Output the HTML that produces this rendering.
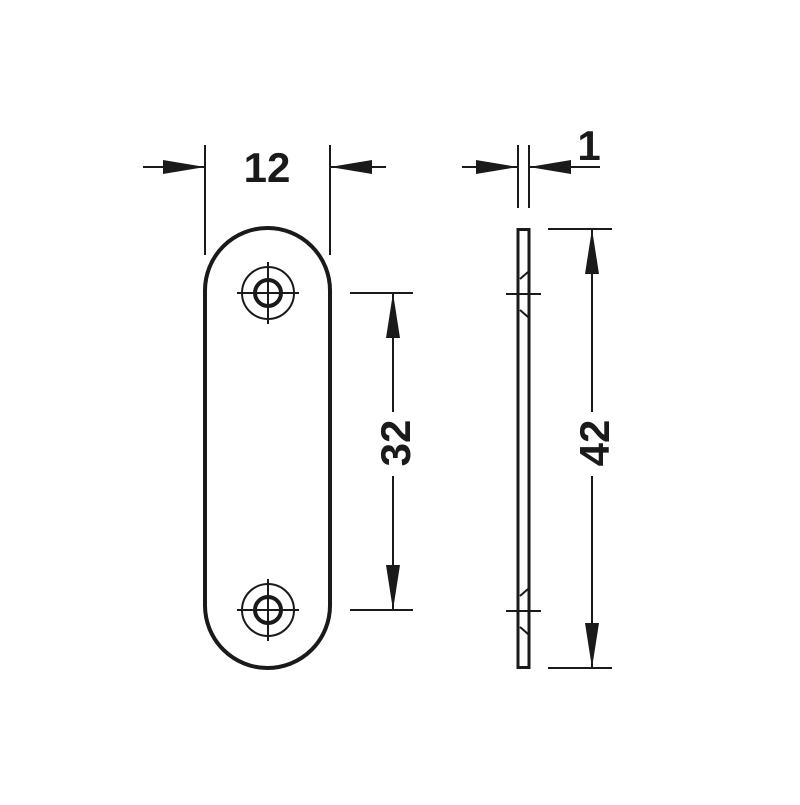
<!DOCTYPE html>
<html><head><style>body{margin:0;background:#fff}</style></head><body>
<svg width="800" height="800" viewBox="0 0 800 800" xmlns="http://www.w3.org/2000/svg">
<g stroke="#1a1a1a" fill="none">
<rect x="205" y="228" width="125" height="440" rx="62.5" stroke-width="4"/>
<g id="h1">
<circle cx="268" cy="293" r="26" stroke-width="2"/>
<circle cx="268" cy="293" r="13" stroke-width="4"/>
<line x1="237" y1="293" x2="299" y2="293" stroke-width="2"/>
<line x1="268" y1="262" x2="268" y2="324" stroke-width="2"/>
<line x1="265" y1="293" x2="271" y2="293" stroke-width="1.5"/>
</g>
<circle cx="268" cy="610" r="26" stroke-width="2"/>
<circle cx="268" cy="610" r="13" stroke-width="4"/>
<line x1="237" y1="610" x2="299" y2="610" stroke-width="2"/>
<line x1="268" y1="579" x2="268" y2="641" stroke-width="2"/>
<line x1="265" y1="610" x2="271" y2="610" stroke-width="1.5"/>
<line x1="268" y1="607" x2="268" y2="613" stroke-width="1.5"/>
<rect x="518" y="229.5" width="11" height="438" stroke-width="3"/>
<line x1="520" y1="279" x2="528" y2="272" stroke-width="2"/>
<line x1="520" y1="310" x2="528" y2="317" stroke-width="2"/>
<line x1="520" y1="596" x2="528" y2="589" stroke-width="2"/>
<line x1="520" y1="627" x2="528" y2="634" stroke-width="2"/>
<line x1="506" y1="294" x2="541" y2="294" stroke-width="2"/>
<line x1="506" y1="611" x2="541" y2="611" stroke-width="2"/>
<g stroke-width="2">
<line x1="205" y1="145" x2="205" y2="255"/>
<line x1="330" y1="145" x2="330" y2="255"/>
<line x1="143" y1="167" x2="205" y2="167"/>
<line x1="330" y1="167" x2="386" y2="167"/>
<line x1="518" y1="145" x2="518" y2="208"/>
<line x1="529" y1="145" x2="529" y2="208"/>
<line x1="462" y1="167" x2="518" y2="167"/>
<line x1="529" y1="167" x2="600" y2="167"/>
<line x1="350" y1="293" x2="413" y2="293"/>
<line x1="350" y1="610" x2="413" y2="610"/>
<line x1="393" y1="293" x2="393" y2="412"/>
<line x1="393" y1="476" x2="393" y2="610"/>
<line x1="548" y1="229" x2="612" y2="229"/>
<line x1="548" y1="668" x2="612" y2="668"/>
<line x1="592" y1="229" x2="592" y2="412"/>
<line x1="592" y1="476" x2="592" y2="668"/>
</g>
</g>
<g fill="#1a1a1a">
<polygon points="205,167 163,160 163,174"/>
<polygon points="330,167 372,160 372,174"/>
<polygon points="518,167 476,160 476,174"/>
<polygon points="529,167 571,160 571,174"/>
<polygon points="393,293 386,338 400,338"/>
<polygon points="393,610 386,565 400,565"/>
<polygon points="592,229 585,274 599,274"/>
<polygon points="592,668 585,623 599,623"/>
</g>
<g font-family="Liberation Sans, sans-serif" font-weight="bold" font-size="42" fill="#1a1a1a" text-anchor="middle">
<text x="267" y="182">12</text>
<text x="589" y="160">1</text>
<text transform="translate(410,443) rotate(-90)">32</text>
<text transform="translate(609,443) rotate(-90)">42</text>
</g>
</svg>
</body></html>
